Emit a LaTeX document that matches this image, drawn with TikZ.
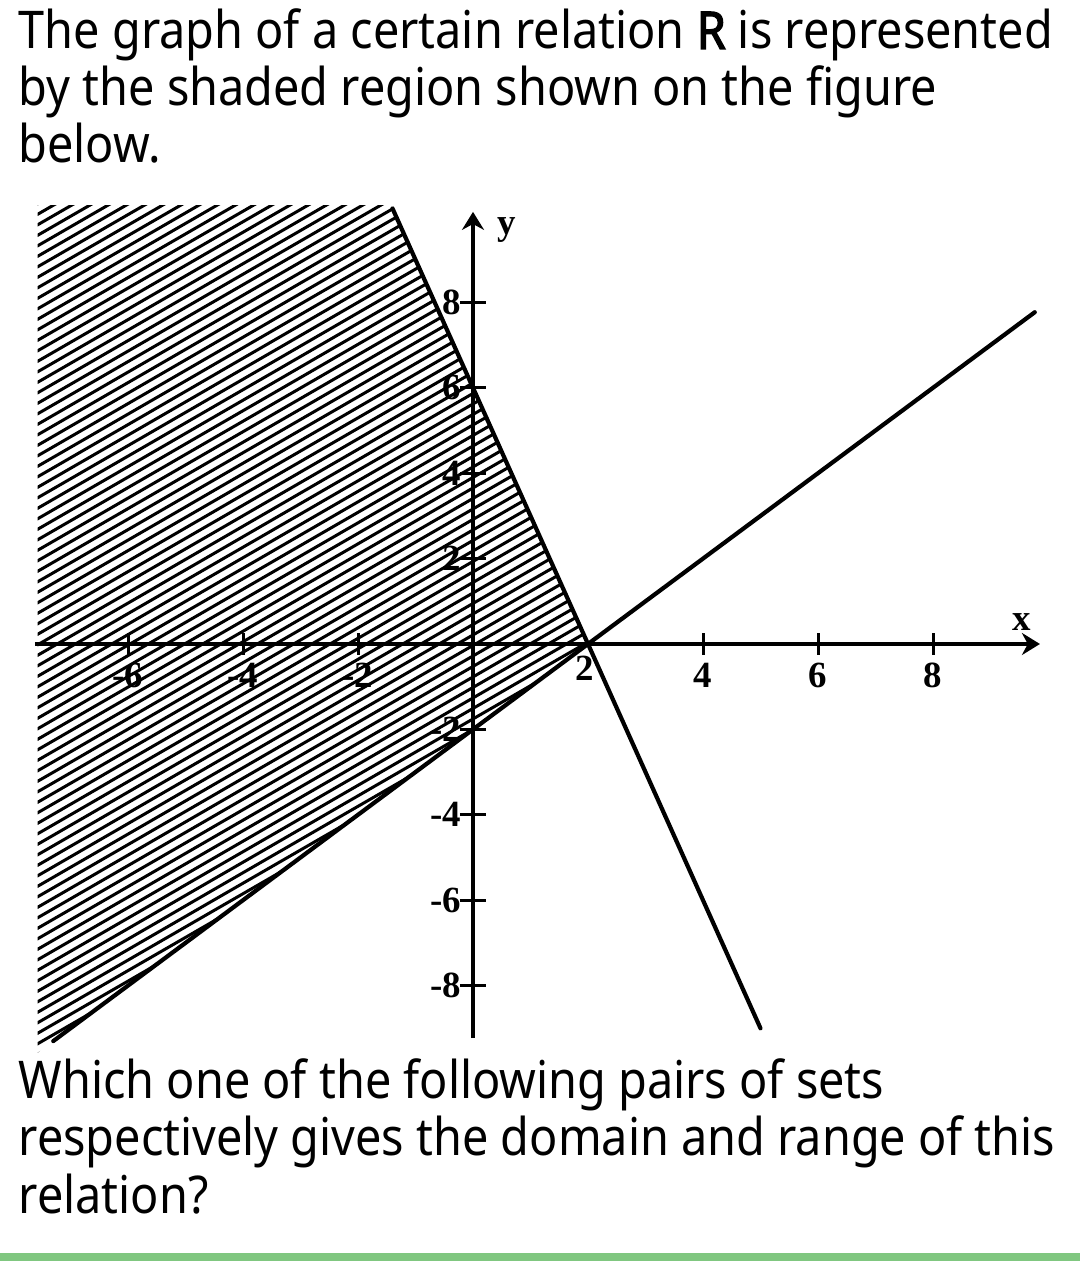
\documentclass[tikz,border=0pt]{standalone}
\usepackage{fontspec}
\setmainfont{Noto Sans}[FakeStretch=0.9, BoldFont={Noto Sans}, BoldFeatures={FakeStretch=0.9, FakeBold=2.5}]
\newfontfamily\tickfont{Liberation Serif}
\usetikzlibrary{arrows.meta}
\definecolor{barGreen}{RGB}{128,199,128}

\begin{document}
\begin{tikzpicture}[
  txt/.style={anchor=base west, inner sep=0pt, font=\fontsize{14.8}{17}\selectfont},
  line/.style={line width=0.42mm, line cap=round},
  axis/.style={line width=0.4mm, -{Stealth[length=1.8mm, width=2.2mm]}},
  hatch/.style={line width=0.3mm},
  tickline/.style={line width=0.3mm},
  tick/.style={inner sep=0pt, font=\tickfont\bfseries\fontsize{10.5}{11}\selectfont}]

\useasboundingbox (0,0) rectangle (10.8,12.61);

\node[txt] (q1) at (0.18,12.12) {The graph of a certain relation \textbf{R} is represented};
\node[txt] (q2) at (0.18,11.55) {by the shaded region shown on the figure};
\node[txt] (q3) at (0.18,10.98) {below.};

\node[txt] (w1) at (0.18,1.62) {Which one of the following pairs of sets};
\node[txt] (w2) at (0.18,1.05) {respectively gives the domain and range of this};
\node[txt] (w3) at (0.18,0.48) {relation?};

\fill[barGreen] (0,0) rectangle (10.8,0.08);

\begin{scope}[shift={(4.73,6.17)}, x=0.575cm, y=0.427cm]

\coordinate (c) at (2,0);
\coordinate (a1) at (-1.4,10.2);
\coordinate (a2) at (5,-9);
\coordinate (b1) at (-7.3,-9.3);
\coordinate (b2) at (9.77,7.77);

\begin{scope}
\clip (-7.57,10.28) -- (-1.43,10.28) -- (c) -- (-7.57,-9.57) -- cycle;
\foreach \k in {0,...,118} {
    \draw[hatch] (-4.6cm, {-7.5cm+\k*0.105cm}) -- ++(30:7cm);
}
\end{scope}

\coordinate (xs) at (-7.62,0);
\coordinate (xe) at (9.86,0);
\coordinate (ys) at (0,-9.23);
\coordinate (ye) at (0,10.12);
\draw[axis] (xs) -- (xe);
\draw[axis] (ys) -- (ye);

\foreach \x in {-6,-4,-2,4,6,8} {
    \draw[tickline] (\x,0.25) -- (\x,-0.25);
    \node[tick] (xl\x) at (\x,-0.74) {\x};
}
\node[tick] (xl2) at (1.95,-0.56) {2};
\foreach \y in {-8,-6,-4,-2,2,4,6,8} {
    \draw[tickline] (-0.23,\y) -- (0.23,\y);
    \node[tick, anchor=east] (yl\y) at (-0.2,\y) {\y};
}

\node[tick] (xlab) at (9.55,0.52) {x};
\node[tick] (ylab) at (0.59,9.7) {y};

\draw[line] (a1) -- (a2);
\draw[line] (b1) -- (b2);

\end{scope}
\end{tikzpicture}
\end{document}
